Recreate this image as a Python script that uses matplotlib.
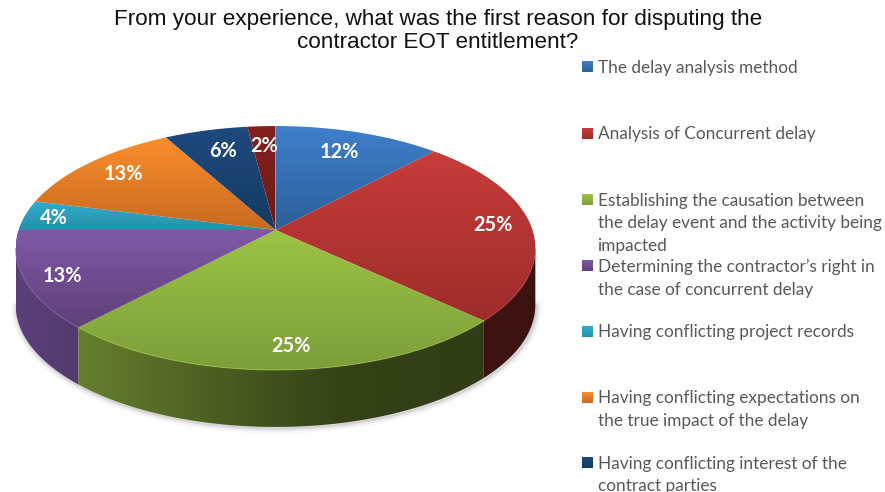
import numpy as np
import matplotlib
matplotlib.use('Agg')
import matplotlib.pyplot as plt
from matplotlib.colors import to_rgb
from matplotlib.patches import Polygon

title = 'From your experience, what was the first reason for disputing the\ncontractor EOT entitlement?'

# share of answers, clockwise from 12 o'clock
categories = [
    'The delay analysis method',
    'Analysis of Concurrent delay',
    'Establishing the causation between\nthe delay event and the activity being\nimpacted',
    'Determining the contractor\u2019s right in\nthe case of concurrent delay',
    'Having conflicting project records',
    'Having conflicting expectations on\nthe true impact of the delay',
    'Having conflicting interest of the\ncontract parties',
    'Other',
]
values = [12, 25, 25, 13, 4, 13, 6, 2]

top_colors = ['#3f7fcc', '#c83c3a', '#9cc445', '#7f59a8', '#30acd0', '#fb8e2c', '#1f4a80', '#85201f']
low_colors = ['#2c5f98', '#9c2d2b', '#7c9e3a', '#5f4079', '#2790a8', '#c76a20', '#143a60', '#6a1a18']

# where the percent labels sit, in pixels
label_xy = [(339, 152), (493, 225), (291, 346), (62, 276), (54, 218), (123, 174), (223, 151), (264, 146)]
legend_y = [66.5, 133.5, 200, 266, 331.5, 397.5, 463]

# pie geometry in pixels
cx, cy = 275.5, 230
rx, ry = 257, 119.3
persp = 0.1475
depth = 57


def project(theta):
    # tilted disc seen in perspective, theta clockwise from the far side
    w = 1 + persp * np.cos(theta)
    return cx + rx * np.sin(theta) / w, cy - ry * np.cos(theta) / w


def grad_fill(ax, x, y, rgb_img, zorder=2):
    poly = Polygon(np.column_stack([x, y]), closed=True, transform=ax.transData,
                   fc='none', ec='none')
    ax.add_patch(poly)
    im = ax.imshow(rgb_img, extent=(x.min(), x.max(), y.max(), y.min()),
                   origin='upper', aspect='auto', interpolation='bilinear', zorder=zorder)
    im.set_clip_path(poly)
    return im


def vgrad(c0, c1, n=128):
    t = np.linspace(0, 1, n)[:, None, None]
    return (1 - t) * np.array(to_rgb(c0))[None, None, :] + t * np.array(to_rgb(c1))[None, None, :]


def wall_shade(c, x0, x1, n=128):
    # side wall gets darker towards the right
    xs = np.linspace(x0, x1, n)
    f = np.interp(xs, [16, 85, 200, 275, 340, 535], [0.72, 0.64, 0.5, 0.41, 0.34, 0.3])
    return f[None, :, None] * np.array(to_rgb(c))[None, None, :]


fig = plt.figure(figsize=(8.85, 4.92), dpi=100)
ax = fig.add_axes([0, 0, 1, 1])
ax.axis('off')

edges = np.cumsum([0] + values) / sum(values) * 2 * np.pi

# soft shadow under the front edge
tan_a = np.arccos(-persp)
front = np.linspace(tan_a, 2 * np.pi - tan_a, 200)
fx, fy = project(front)
for lw, a in [(8, 0.04), (5, 0.07), (2.5, 0.12)]:
    ax.plot(fx + 1, fy + depth + 1, color='#404040', lw=lw, alpha=a, zorder=1, solid_capstyle='round')

# side walls, only the part turned towards the viewer
for i in range(len(values)):
    a0, a1 = max(edges[i], tan_a), min(edges[i + 1], 2 * np.pi - tan_a)
    if a1 <= a0:
        continue
    t = np.linspace(a0, a1, 80)
    x, y = project(t)
    px = np.r_[x, x[::-1]]
    py = np.r_[y, y[::-1] + depth]
    grad_fill(ax, px, py, wall_shade(top_colors[i], px.min(), px.max()), zorder=2)

# top faces
for i in range(len(values)):
    t = np.linspace(edges[i], edges[i + 1], 120)
    x, y = project(t)
    px = np.r_[cx, x]
    py = np.r_[cy, y]
    grad_fill(ax, px, py, vgrad(top_colors[i], low_colors[i]), zorder=3)
    # light rim along the front
    mask = (t > tan_a) & (t < 2 * np.pi - tan_a)
    if mask.sum() > 1:
        ax.plot(x[mask], y[mask], color=top_colors[i], lw=0.8, alpha=0.6, zorder=4)

for v, (lx, ly) in zip(values, label_xy):
    ax.text(lx, ly, f'{v}%', color='white', fontsize=14.3, fontweight='bold', family='Lato',
            ha='center', va='center', zorder=5)

ax.text(438, 31, title, fontsize=16.2, family='Liberation Sans', color='#111111',
        ha='center', va='center', linespacing=1.1)

# legend, one row per answer (the smallest slice has no entry)
for lab, y0, c0, c1 in zip(categories, legend_y, top_colors, low_colors):
    ax.imshow(vgrad(c0, c1), extent=(582, 593, y0 + 5.5, y0 - 5.5), origin='upper',
              aspect='auto', interpolation='bilinear', zorder=3)
    ax.text(597.5, y0 - 7, lab, fontsize=12.4, family='Lato', color='#595959',
            ha='left', va='top', linespacing=1.49)

ax.set_xlim(0, 885)
ax.set_ylim(492, 0)

fig.savefig('out.png', dpi=100)
